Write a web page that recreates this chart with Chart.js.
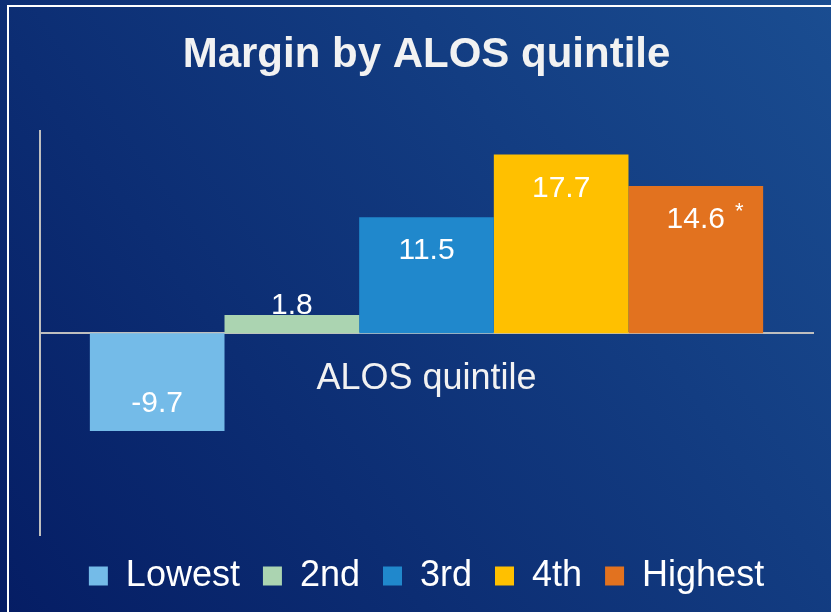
<!DOCTYPE html>
<html>
<head>
<meta charset="utf-8">
<script src="https://cdn.jsdelivr.net/npm/chart.js@4/dist/chart.umd.min.js"></script>
<style>
  html, body { margin: 0; padding: 0; background: #0B3278; }
  #wrap { width: 831px; height: 612px; position: relative; }
</style>
</head>
<body>
<div id="wrap"><canvas id="c" width="831" height="612"></canvas></div>
<script>
// ---- data ----
const categories = ['ALOS quintile'];
const seriesNames = ['Lowest', '2nd', '3rd', '4th', 'Highest'];
const values = [-9.7, 1.8, 11.5, 17.7, 14.6];
const notes = ['', '', '', '', '*'];
const yMin = -20;
const yMax = 20;

// ---- styles ----
const seriesColors = ['#74BBE8', '#ABD4B1', '#2088CC', '#FFC000', '#E2721F'];
const FONT = '"Liberation Sans", Arial, Helvetica, sans-serif';
const TEXT = '#F2F2F2';
const AXIS = '#BFBFBF';

const backgroundPlugin = {
  id: 'bg',
  beforeDraw(chart) {
    const ctx = chart.ctx, w = chart.width, h = chart.height;
    ctx.save();
    const g = ctx.createLinearGradient(0, h, w, 0);
    g.addColorStop(0, '#051D64');
    g.addColorStop(1, '#1A4D91');
    ctx.fillStyle = g;
    ctx.fillRect(0, 0, w, h);
    ctx.fillStyle = '#FFFFFF';
    ctx.fillRect(7, 5, w - 7, 2);
    ctx.fillRect(7, 5, 2, h - 5);
    ctx.restore();
  }
};

const labelPlugin = {
  id: 'barLabels',
  afterDatasetsDraw(chart) {
    const ctx = chart.ctx;
    ctx.save();
    ctx.fillStyle = '#FFFFFF';
    chart.data.datasets.forEach((ds, i) => {
      const meta = chart.getDatasetMeta(i);
      meta.data.forEach((bar, j) => {
        const v = ds.data[j];
        const text = v.toFixed(1);
        let y;
        if (v >= 0) {
          y = (bar.base - bar.y) > 45 ? bar.y + 34 : bar.y - 9;
        } else {
          y = bar.y - 27;
        }
        ctx.font = '30px ' + FONT;
        ctx.textAlign = 'center';
        ctx.textBaseline = 'middle';
        ctx.fillText(text, bar.x, y);
        const note = notes[i];
        if (note) {
          const tw = ctx.measureText(text).width;
          ctx.font = '22px ' + FONT;
          ctx.textAlign = 'left';
          ctx.textBaseline = 'alphabetic';
          ctx.fillText(note, bar.x + tw / 2 + 10, y - 2);
        }
      });
    });
    ctx.restore();
  }
};

const datasets = seriesNames.map((name, i) => ({
  label: name,
  data: [values[i]],
  backgroundColor: seriesColors[i],
  borderWidth: 0,
  barPercentage: 1.0,
  categoryPercentage: 0.871
}));

new Chart(document.getElementById('c'), {
  type: 'bar',
  data: { labels: categories, datasets },
  plugins: [backgroundPlugin, labelPlugin],
  options: {
    responsive: false,
    animation: false,
    devicePixelRatio: 1,
    layout: { padding: { left: 40, right: 18, top: 0, bottom: 8 } },
    plugins: {
      title: {
        display: true,
        text: 'Margin by ALOS quintile',
        color: TEXT,
        font: { family: FONT, size: 42, weight: 'bold' },
        padding: { top: 30, bottom: 51 }
      },
      legend: {
        display: true,
        position: 'bottom',
        labels: {
          color: '#FFFFFF',
          font: { family: FONT, size: 36 },
          boxWidth: 19,
          boxHeight: 19,
          padding: 23
        }
      },
      tooltip: { enabled: false }
    },
    scales: {
      x: {
        position: { y: 0 },
        grid: { display: false, drawTicks: false },
        border: { display: true, color: AXIS, width: 2 },
        ticks: { color: TEXT, font: { family: FONT, size: 36 }, padding: 24 }
      },
      y: {
        min: yMin,
        max: yMax,
        grid: { display: false, drawTicks: false },
        border: { display: true, color: AXIS, width: 2 },
        ticks: { display: false }
      }
    }
  }
});
</script>
</body>
</html>
